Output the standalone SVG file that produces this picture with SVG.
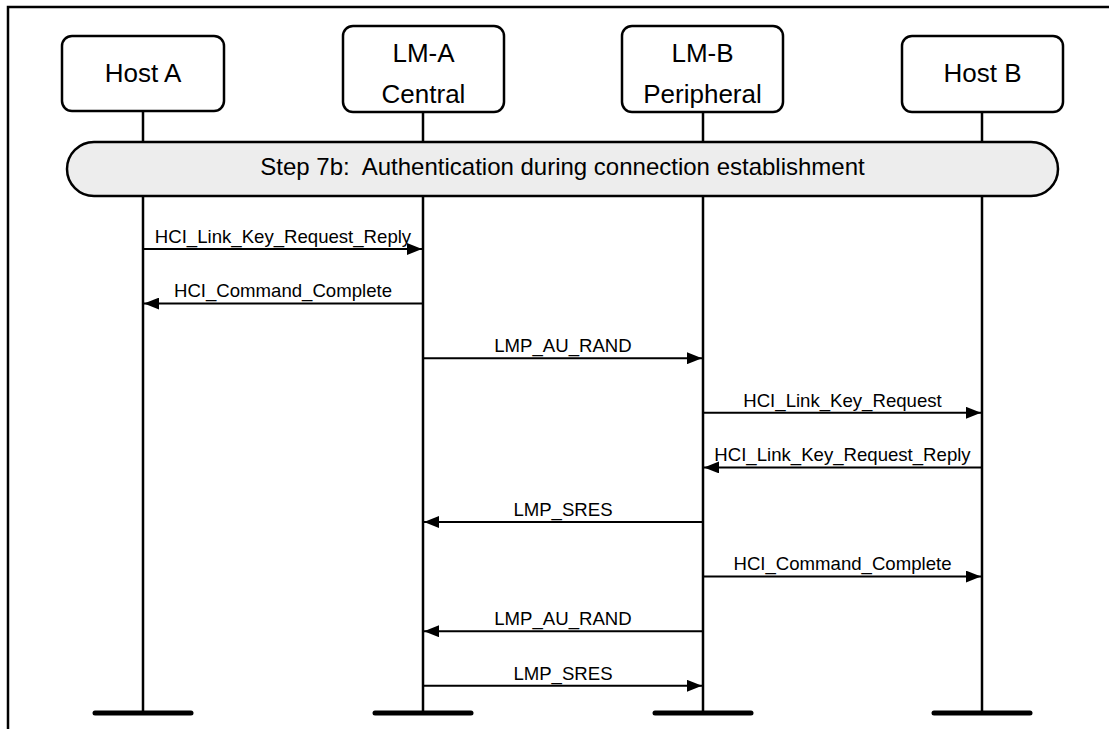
<svg xmlns="http://www.w3.org/2000/svg" width="1109" height="729" viewBox="0 0 1109 729">
<style>
.frame{fill:none;stroke:#000;stroke-width:2.5}
.box{fill:#fff;stroke:#000;stroke-width:2.5}
.life{stroke:#000;stroke-width:2.5;fill:none}
.foot{stroke:#000;stroke-width:5;stroke-linecap:round}
.bar{fill:#ededed;stroke:#000;stroke-width:2.5}
.t{font-family:"Liberation Sans",Arial,sans-serif;fill:#000;text-anchor:middle}
.tb{font-size:26px}
.ts{font-size:24px}
.tl{font-size:18.6px}
.msg{stroke:#000;stroke-width:2;fill:none;marker-end:url(#ah)}
</style>
<defs>
<marker id="ah" markerWidth="15" markerHeight="12" refX="15" refY="6" orient="auto" markerUnits="userSpaceOnUse">
<path d="M0,0 L15,6 L0,12 z" fill="#000"/>
</marker>
</defs>
<rect width="1109" height="729" fill="#fff"/>
<path class="frame" d="M8,729 V7 H1109"/>
<g id="lifelines">
<line class="life" x1="143" y1="111" x2="143" y2="713"/>
<line class="life" x1="423" y1="112" x2="423" y2="713"/>
<line class="life" x1="703" y1="112" x2="703" y2="713"/>
<line class="life" x1="982" y1="112" x2="982" y2="713"/>
<line class="foot" x1="95" y1="713" x2="191" y2="713"/>
<line class="foot" x1="375" y1="713" x2="471" y2="713"/>
<line class="foot" x1="655" y1="713" x2="751" y2="713"/>
<line class="foot" x1="934" y1="713" x2="1030" y2="713"/>
</g>
<g id="hostA">
<rect class="box" x="62" y="36" width="162" height="75" rx="10"/>
<text class="t tb" x="143" y="82">Host A</text>
</g>
<g id="lmA">
<rect class="box" x="343" y="26" width="161" height="86" rx="10"/>
<text class="t tb" x="423.5" y="62">LM-A</text>
<text class="t tb" x="423.5" y="102.5">Central</text>
</g>
<g id="lmB">
<rect class="box" x="622" y="26" width="161" height="86" rx="10"/>
<text class="t tb" x="702.5" y="62">LM-B</text>
<text class="t tb" x="702.5" y="102.5">Peripheral</text>
</g>
<g id="hostB">
<rect class="box" x="902" y="36" width="161" height="76" rx="10"/>
<text class="t tb" x="982.5" y="82">Host B</text>
</g>
<g id="step">
<rect class="bar" x="67" y="142" width="991" height="54" rx="27"/>
<text class="t ts" x="562.5" y="175" xml:space="preserve">Step 7b:  Authentication during connection establishment</text>
</g>
<g id="connectors">
<line class="msg" x1="143" y1="249" x2="422" y2="249"/>
<text class="t tl" x="283" y="242.7">HCI_Link_Key_Request_Reply</text>
<line class="msg" x1="423" y1="303.6" x2="144" y2="303.6"/>
<text class="t tl" x="283" y="297.3">HCI_Command_Complete</text>
<line class="msg" x1="423" y1="358.2" x2="702" y2="358.2"/>
<text class="t tl" x="563" y="351.9">LMP_AU_RAND</text>
<line class="msg" x1="703" y1="412.8" x2="981" y2="412.8"/>
<text class="t tl" x="842.5" y="406.5">HCI_Link_Key_Request</text>
<line class="msg" x1="982" y1="467.4" x2="704" y2="467.4"/>
<text class="t tl" x="842.5" y="461.1">HCI_Link_Key_Request_Reply</text>
<line class="msg" x1="703" y1="522" x2="424" y2="522"/>
<text class="t tl" x="563" y="515.7">LMP_SRES</text>
<line class="msg" x1="703" y1="576.6" x2="981" y2="576.6"/>
<text class="t tl" x="842.5" y="570.3">HCI_Command_Complete</text>
<line class="msg" x1="703" y1="631.2" x2="424" y2="631.2"/>
<text class="t tl" x="563" y="624.9">LMP_AU_RAND</text>
<line class="msg" x1="423" y1="685.8" x2="702" y2="685.8"/>
<text class="t tl" x="563" y="679.5">LMP_SRES</text>
</g>
</svg>
